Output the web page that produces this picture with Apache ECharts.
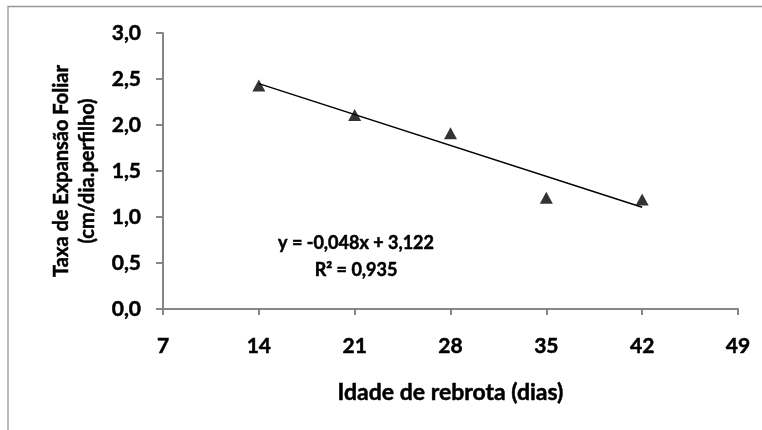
<!DOCTYPE html>
<html>
<head>
<meta charset="utf-8">
<script src="https://cdn.jsdelivr.net/npm/echarts@6/dist/echarts.min.js"></script>
<style>html,body{margin:0;padding:0;background:#fff}#c{width:762px;height:430px}</style>
</head>
<body>
<div id="c"></div>
<script>
const days = [14, 21, 28, 35, 42];
const taxa = [2.43, 2.11, 1.91, 1.21, 1.19];
const trendX = [14, 42];
const trendY = [2.45, 1.106];
const eqText = 'y = -0,048x + 3,122';
const r2Text = 'R² = 0,935';
const xTitle = 'Idade de rebrota (dias)';
const yTitle = 'Taxa de Expansão Foliar\n(cm/dia.perfilho)';

const FONT = 'Lato';
const heavy = {textBorderColor: '#000', textBorderWidth: 0.5};
const chart = echarts.init(document.getElementById('c'), null, {renderer: 'canvas'});
chart.setOption({
  animation: false,
  grid: {left: 163, right: 24, top: 33, bottom: 121},
  xAxis: {
    type: 'value', min: 7, max: 49, interval: 7,
    name: xTitle, nameLocation: 'middle', nameGap: 72,
    nameTextStyle: Object.assign({fontFamily: FONT, fontWeight: 'bold', fontSize: 23, color: '#000'}, heavy),
    axisLine: {lineStyle: {color: '#868686', width: 2}},
    axisTick: {show: true, length: 6, lineStyle: {color: '#868686', width: 2}},
    axisLabel: Object.assign({margin: 27, fontFamily: FONT, fontWeight: 'bold', fontSize: 21, color: '#000'}, heavy),
    splitLine: {show: false}
  },
  yAxis: {
    type: 'value', min: 0, max: 3, interval: 0.5,
    name: yTitle, nameLocation: 'middle', nameGap: 32,
    nameTextStyle: Object.assign({fontFamily: FONT, fontWeight: 'bold', fontSize: 20, color: '#000', lineHeight: 26}, heavy),
    axisLine: {show: true, lineStyle: {color: '#868686', width: 2}},
    axisTick: {show: true, length: 7, lineStyle: {color: '#868686', width: 2}},
    axisLabel: Object.assign({margin: 22, fontFamily: FONT, fontWeight: 'bold', fontSize: 21, color: '#000',
      formatter: v => v.toFixed(1).replace('.', ',')}, heavy),
    splitLine: {show: false}
  },
  series: [
    {
      type: 'line', data: trendX.map((x, i) => [x, trendY[i]]),
      showSymbol: false, symbol: 'none',
      lineStyle: {color: '#000', width: 1.5}, z: 2
    },
    {
      type: 'scatter', data: days.map((d, i) => [d, taxa[i]]),
      symbol: 'triangle', symbolSize: [13, 12],
      itemStyle: {color: '#000'}, z: 3
    }
  ],
  graphic: [
    {type: 'rect', shape: {x: 8, y: 6.5, width: 900, height: 600}, style: {fill: 'none', stroke: '#999', lineWidth: 1.3}, silent: true},
    {type: 'text', x: 356, y: 243, style: {text: eqText, font: 'bold 18px Lato', fill: '#000', stroke: '#000', lineWidth: 0.5, align: 'center', verticalAlign: 'middle'}},
    {type: 'text', x: 356, y: 270, style: {text: r2Text, font: 'bold 18px Lato', fill: '#000', stroke: '#000', lineWidth: 0.5, align: 'center', verticalAlign: 'middle'}}
  ]
});
</script>
</body>
</html>
